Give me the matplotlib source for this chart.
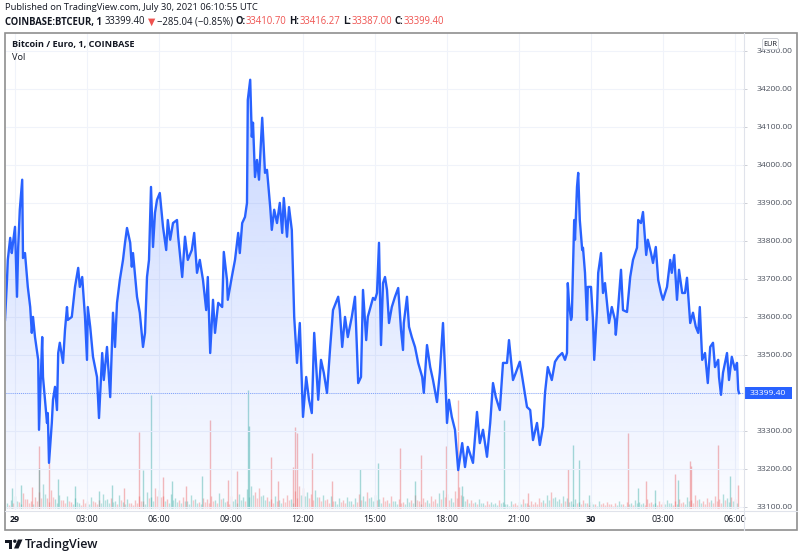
import matplotlib.pyplot as plt
import numpy as np
from matplotlib.patches import Rectangle, FancyBboxPatch, Circle, Polygon

plt.rcParams['font.family'] = ['Open Sans', 'DejaVu Sans']

# minutes from Jul 29 00:00 (UTC) and BTC/EUR close
minutes = [-25, -20, -18, -12, -8, -5, 0, 5, 8, 12, 18, 20, 25, 32, 38, 42, 45, 50, 58, 60,
           68, 70, 75, 80, 82, 85, 92, 95, 100, 105, 108, 112, 120, 125, 130, 132, 142, 150, 158, 162,
           168, 175, 180, 182, 188, 195, 205, 210, 218, 222, 230, 238, 245, 250, 255, 262, 270, 275, 280, 288,
           292, 295, 305, 312, 320, 325, 330, 335, 340, 345, 350, 355, 362, 370, 378, 382, 388, 395, 405, 408,
           418, 425, 432, 442, 448, 455, 462, 470, 478, 482, 488, 495, 500, 508, 518, 522, 530, 532, 542, 550,
           558, 562, 568, 575, 580, 582, 588, 592, 595, 600, 605, 610, 618, 625, 630, 638, 642, 648, 655, 662,
           668, 672, 680, 685, 692, 698, 705, 712, 720, 728, 735, 742, 748, 758, 765, 772, 780, 788, 795, 808,
           812, 818, 825, 832, 842, 850, 858, 865, 870, 878, 882, 895, 900, 905, 910, 915, 920, 925, 930, 935,
           942, 950, 958, 965, 970, 972, 980, 985, 992, 1000, 1008, 1018, 1022, 1030, 1038, 1045, 1055, 1062, 1070, 1075,
           1080, 1085, 1092, 1100, 1108, 1118, 1125, 1132, 1145, 1155, 1162, 1170, 1180, 1188, 1195, 1202, 1212, 1220, 1230, 1235,
           1245, 1252, 1262, 1272, 1280, 1288, 1295, 1305, 1312, 1320, 1325, 1332, 1342, 1350, 1358, 1368, 1375, 1380, 1382, 1385,
           1390, 1392, 1398, 1400, 1405, 1408, 1412, 1418, 1420, 1425, 1430, 1432, 1440, 1445, 1448, 1455, 1458, 1465, 1470, 1475,
           1480, 1485, 1492, 1500, 1502, 1508, 1515, 1520, 1530, 1538, 1545, 1555, 1558, 1565, 1570, 1578, 1582, 1590, 1595, 1602,
           1608, 1615, 1620, 1630, 1638, 1642, 1648, 1655, 1660, 1668, 1675, 1680, 1688, 1695, 1702, 1708, 1712, 1718, 1725, 1732,
           1738, 1745, 1750, 1758, 1760, 1765, 1770, 1780, 1785, 1792, 1800, 1805, 1808, 1810]
prices = [33592, 33697, 33750, 33808, 33768, 33795, 33837, 33653, 33784, 33882, 33961, 33755, 33768, 33679, 33626, 33558, 33600, 33547, 33487, 33303,
          33547, 33442, 33382, 33321, 33347, 33216, 33321, 33382, 33416, 33355, 33505, 33532, 33479, 33566, 33626, 33592, 33600, 33679, 33729, 33679,
          33705, 33600, 33487, 33626, 33574, 33495, 33442, 33334, 33505, 33434, 33521, 33389, 33611, 33521, 33637, 33697, 33750, 33795, 33834, 33795,
          33732, 33768, 33653, 33611, 33521, 33558, 33705, 33750, 33942, 33784, 33874, 33908, 33926, 33837, 33776, 33855, 33803, 33847, 33855, 33811,
          33705, 33811, 33750, 33776, 33821, 33716, 33750, 33697, 33618, 33705, 33505, 33645, 33558, 33637, 33626, 33771, 33697, 33645, 33705, 33750,
          33821, 33768, 33847, 33863, 33900, 34171, 34224, 34074, 34111, 33968, 34013, 33961, 34124, 33979, 33987, 33889, 33829, 33882, 33847, 33900,
          33821, 33913, 33811, 33889, 33829, 33600, 33479, 33584, 33337, 33442, 33382, 33347, 33558, 33382, 33487, 33453, 33400, 33521, 33618, 33653,
          33618, 33521, 33600, 33547, 33600, 33653, 33426, 33442, 33671, 33539, 33600, 33650, 33645, 33663, 33795, 33526, 33689, 33705, 33671, 33584,
          33626, 33653, 33676, 33566, 33513, 33584, 33653, 33574, 33547, 33521, 33479, 33442, 33400, 33526, 33468, 33434, 33376, 33453, 33584, 33461,
          33321, 33382, 33337, 33303, 33197, 33268, 33205, 33258, 33216, 33350, 33268, 33303, 33232, 33321, 33426, 33389, 33355, 33479, 33479, 33539,
          33434, 33453, 33482, 33416, 33363, 33355, 33276, 33321, 33263, 33311, 33400, 33468, 33434, 33482, 33495, 33505, 33487, 33505, 33689, 33637,
          33592, 33600, 33855, 33803, 33942, 33979, 33855, 33776, 33782, 33716, 33592, 33679, 33679, 33592, 33487, 33618, 33716, 33768, 33663, 33689,
          33637, 33584, 33626, 33592, 33553, 33626, 33724, 33618, 33613, 33705, 33750, 33782, 33855, 33847, 33876, 33763, 33803, 33768, 33742, 33784,
          33697, 33663, 33645, 33679, 33750, 33716, 33763, 33645, 33724, 33663, 33663, 33703, 33584, 33611, 33574, 33558, 33626, 33487, 33505, 33426,
          33521, 33532, 33468, 33487, 33442, 33395, 33453, 33505, 33434, 33495, 33461, 33479, 33408, 33399.4]

# background volume (BTC), one value per 10 minutes from 23:40 on the 28th
vol_base = [0.5, 0.8,
            1.2, 0.6, 1.5, 0.9, 0.7, 1.1,
            1.6, 2.4, 1.0, 1.8, 0.9, 1.3,
            0.8, 1.2, 0.6, 1.0, 0.5, 0.9,
            0.7, 1.1, 0.6, 0.8, 1.4, 0.9,
            1.0, 0.7, 1.3, 0.6, 0.9, 0.5,
            0.8, 1.2, 0.7, 1.6, 1.1, 2.0,
            1.8, 1.2, 0.9, 1.4, 1.0, 0.8,
            1.1, 0.7, 1.3, 0.9, 0.6, 1.0,
            0.9, 1.2, 0.8, 1.5, 1.0, 0.7,
            1.2, 0.9, 1.4, 1.1, 1.9, 2.2,
            1.6, 2.0, 1.3, 1.1, 0.9, 1.2,
            0.8, 1.0, 1.3, 0.9, 1.7, 2.2,
            2.0, 1.6, 1.4, 1.8, 1.1, 1.3,
            0.9, 1.2, 0.7, 1.0, 0.8, 1.1,
            0.7, 1.0, 1.4, 1.2, 1.6, 1.1,
            1.3, 0.9, 1.1, 0.8, 1.2, 0.7,
            0.9, 0.6, 1.0, 0.8, 1.3, 0.7,
            1.0, 0.8, 1.2, 0.9, 1.5, 1.8,
            1.4, 1.0, 1.7, 2.1, 1.2, 0.9,
            0.8, 0.6, 0.9, 0.5, 0.7, 0.6,
            0.5, 0.8, 0.6, 0.4, 0.7, 0.5,
            0.6, 0.9, 0.5, 0.7, 0.6, 1.0,
            0.8, 1.3, 1.6, 1.1, 0.9, 1.2,
            1.0, 0.7, 0.9, 0.6, 0.8, 0.5,
            0.6, 0.4, 0.7, 0.5, 0.6, 0.4,
            0.5, 0.7, 0.4, 0.6, 0.5, 0.8,
            0.6, 0.5, 0.9, 0.6, 0.5, 0.7,
            0.6, 0.8, 0.5, 0.7, 0.9, 0.6,
            1.1, 0.8, 1.3, 0.9, 0.7, 1.0,
            0.8, 1.2, 0.9, 1.4, 1.0, 1.1,
            0.9]
vol_base_start = -20

# larger volume bars
spike_min = [-8, 15, 42, 60, 61, 85, 108, 150, 210, 242, 272, 310, 320, 340, 370, 392, 428, 468, 488, 532,
             555, 582, 585, 640, 658, 695, 700, 705, 742, 792, 862, 908, 962, 1000, 1015, 1078, 1108, 1118, 1222, 1282,
             1382, 1395, 1410, 1435, 1532, 1558, 1578, 1600, 1650, 1658, 1688, 1690, 1758, 1788, 1808]
spike_vol = [2.0, 2.3, 2.1, 6.2, 4.0, 4.5, 2.9, 2.2, 1.7, 2.3, 2.0, 7.6, 3.8, 11.3, 3.1, 2.7, 2.2, 3.2, 8.8, 2.8,
             3.7, 11.8, 8.2, 5.1, 2.7, 4.1, 8.1, 7.5, 5.5, 2.7, 3.9, 4.5, 6.0, 2.7, 5.3, 6.2, 10.8, 2.2, 8.8, 1.5,
             3.9, 6.3, 4.8, 1.3, 7.5, 2.0, 2.7, 1.8, 3.4, 2.8, 4.7, 4.2, 6.3, 3.2, 2.3]
spike_up = ['g', 'g', 'r', 'r', 'g', 'r', 'g', 'g', 'g', 'g', 'r', 'r', 'g', 'g', 'r', 'g', 'r', 'g', 'r', 'r',
            'r', 'g', 'g', 'r', 'r', 'r', 'r', 'r', 'r', 'r', 'g', 'g', 'r', 'g', 'r', 'r', 'r', 'g', 'g', 'r',
            'r', 'g', 'g', 'g', 'r', 'g', 'r', 'g', 'r', 'g', 'r', 'r', 'r', 'g', 'r']

price_ticks = list(range(33100, 34301, 100))
time_ticks = [0, 180, 360, 540, 720, 900, 1080, 1260, 1440, 1620, 1800]
time_labels = ['29', '03:00', '06:00', '09:00', '12:00', '15:00', '18:00', '21:00', '30', '03:00', '06:00']

last_price = prices[-1]
line_blue = '#2962ff'
up_col = '#26a69a'
down_col = '#ef5350'

W, H = 800, 558
fig = plt.figure(figsize=(8, 5.58), dpi=100)
rect = [6 / W, 1 - 510 / H, 737 / W, 477 / H]

# volume pane (behind)
vax = fig.add_axes(rect, zorder=1)
vax.set_xlim(-22.5, 1820)
vax.set_ylim(-0.2, 47.5)
vax.axis('off')
t_base = np.arange(len(vol_base)) * 10 + vol_base_start
p_now = np.interp(t_base, minutes, prices)
p_prev = np.interp(t_base - 10, minutes, prices)
base_cols = [up_col if a >= b else down_col for a, b in zip(p_now, p_prev)]
vax.vlines(t_base, 0, vol_base, colors=base_cols, lw=1.0, alpha=0.35)
vax.vlines(t_base + 5, 0, np.array(vol_base) * 0.6, colors=base_cols[::-1], lw=1.0, alpha=0.3)
spk_cols = [up_col if c == 'g' else down_col for c in spike_up]
vax.vlines(spike_min, 0, spike_vol, colors=spk_cols, lw=1.0, alpha=0.4)

# price pane
ax = fig.add_axes(rect, zorder=2)
ax.patch.set_alpha(0)
ax.set_xlim(-22.5, 1820)
ax.set_ylim(33092, 34347)

fill = ax.fill_between(minutes, prices, 33092, facecolor='none', edgecolor='none')
grad = np.zeros((256, 1, 4))
grad[:, 0, 0] = 41 / 255
grad[:, 0, 1] = 98 / 255
grad[:, 0, 2] = 1.0
grad[:, 0, 3] = np.linspace(0.26, 0.02, 256)
im = ax.imshow(grad, aspect='auto', origin='upper',
               extent=[-22.5, 1820, 33092, max(prices)], zorder=1, interpolation='bilinear')
im.set_clip_path(fill.get_paths()[0], transform=ax.transData)
ax.set_xlim(-22.5, 1820)
ax.set_ylim(33092, 34347)

ax.plot(minutes, prices, color=line_blue, lw=1.7, zorder=3, solid_joinstyle='round')
ax.axhline(last_price, color=line_blue, ls=(0, (1, 1.5)), lw=0.6, alpha=0.7, zorder=2, clip_on=False)

ax.set_xticks(time_ticks)
ax.set_xticklabels(time_labels)
for lab in ax.get_xticklabels():
    if lab.get_text() in ('29', '30'):
        lab.set_fontweight('bold')
ax.yaxis.tick_right()
ax.set_yticks(price_ticks)
ax.set_yticklabels(['' if v == 33400 else f'{v:.2f}' for v in price_ticks])
ax.tick_params(axis='x', length=0, pad=3.5, labelsize=6.4, labelcolor='#131722')
ax.tick_params(axis='y', length=3, width=0.6, color='#c5c8cf', pad=7, labelsize=6.1, labelcolor='#4c525e')
ax.grid(True, color='#f0f3fa', lw=0.8, zorder=0)
ax.set_axisbelow(True)
for s in ax.spines.values():
    s.set_visible(False)

# overlay in pixel units
ov = fig.add_axes([0, 0, 1, 1], zorder=10)
ov.set_xlim(0, W)
ov.set_ylim(H, 0)
ov.axis('off')
ov.patch.set_alpha(0)

ov.add_patch(Rectangle((5, 33), 792, 497, fill=False, ec='#8f8f8f', lw=1.2))
ov.plot([743.5, 743.5], [33, 530], color='#e0e3eb', lw=0.8)
ov.plot([5, 797], [510.5, 510.5], color='#e0e3eb', lw=0.8)

# current price label
yp = ov.transData.inverted().transform(ax.transData.transform((0, last_price)))[1]
ov.add_patch(Rectangle((744, yp - 6), 48, 12, fc=line_blue, ec='none'))
ov.text(768, yp, f'{last_price:.2f}', color='white', fontsize=6.1, ha='center', va='center')

# EUR badge
ov.add_patch(FancyBboxPatch((762.5, 38.5), 16, 11, boxstyle='round,pad=0,rounding_size=2',
                            fc='white', ec='#c8cbd3', lw=0.6))
ov.text(770.5, 44, 'EUR', fontsize=5.3, ha='center', va='center', color='#131722')

# pane legend
ov.text(12, 45, 'Bitcoin / Euro, 1, COINBASE', fontsize=6.6, fontweight='bold', color='#131722', va='center')
ov.text(12, 57, 'Vol', fontsize=6.6, color='#131722', va='center')

# header
ov.text(5, 8, 'Published on TradingView.com, July 30, 2021 06:10:55 UTC', fontsize=6.75,
        color='#131722', va='center')
renderer = fig.canvas.get_renderer()
segs = [('COINBASE:BTCEUR, 1', 'bold', '#131722', 3),
        ('33399.40', 'normal', '#131722', 2),
        ('\u25bc', 'normal', down_col, 2),
        ('\u2212285.04 (\u22120.85%)', 'normal', '#131722', 3),
        ('O:', 'bold', '#131722', 0), ('33410.70', 'normal', down_col, 3),
        ('H:', 'bold', '#131722', 0), ('33416.27', 'normal', down_col, 3),
        ('L:', 'bold', '#131722', 0), ('33387.00', 'normal', down_col, 3),
        ('C:', 'bold', '#131722', 0), ('33399.40', 'normal', down_col, 0)]
xpos = 5
for txt, wt, col, gap in segs:
    t = ov.text(xpos, 22, txt, fontsize=6.85, fontweight=wt, color=col, va='center')
    xpos += t.get_window_extent(renderer=renderer).width + gap

# TradingView logo
ov.add_patch(Rectangle((5, 539.5), 7, 3, fc='#131722', ec='none'))
ov.add_patch(Rectangle((8.5, 539.5), 3.5, 9, fc='#131722', ec='none'))
ov.add_patch(Circle((14.8, 541.2), 1.7, fc='#131722', ec='none'))
ov.add_patch(Polygon([(18, 539.5), (22.5, 539.5), (18.5, 548.5), (14, 548.5)], fc='#131722', ec='none'))
ov.text(25, 544.5, 'TradingView', fontsize=9, fontweight='semibold', color='#131722', va='center')

fig.savefig('out.png', dpi=100)
